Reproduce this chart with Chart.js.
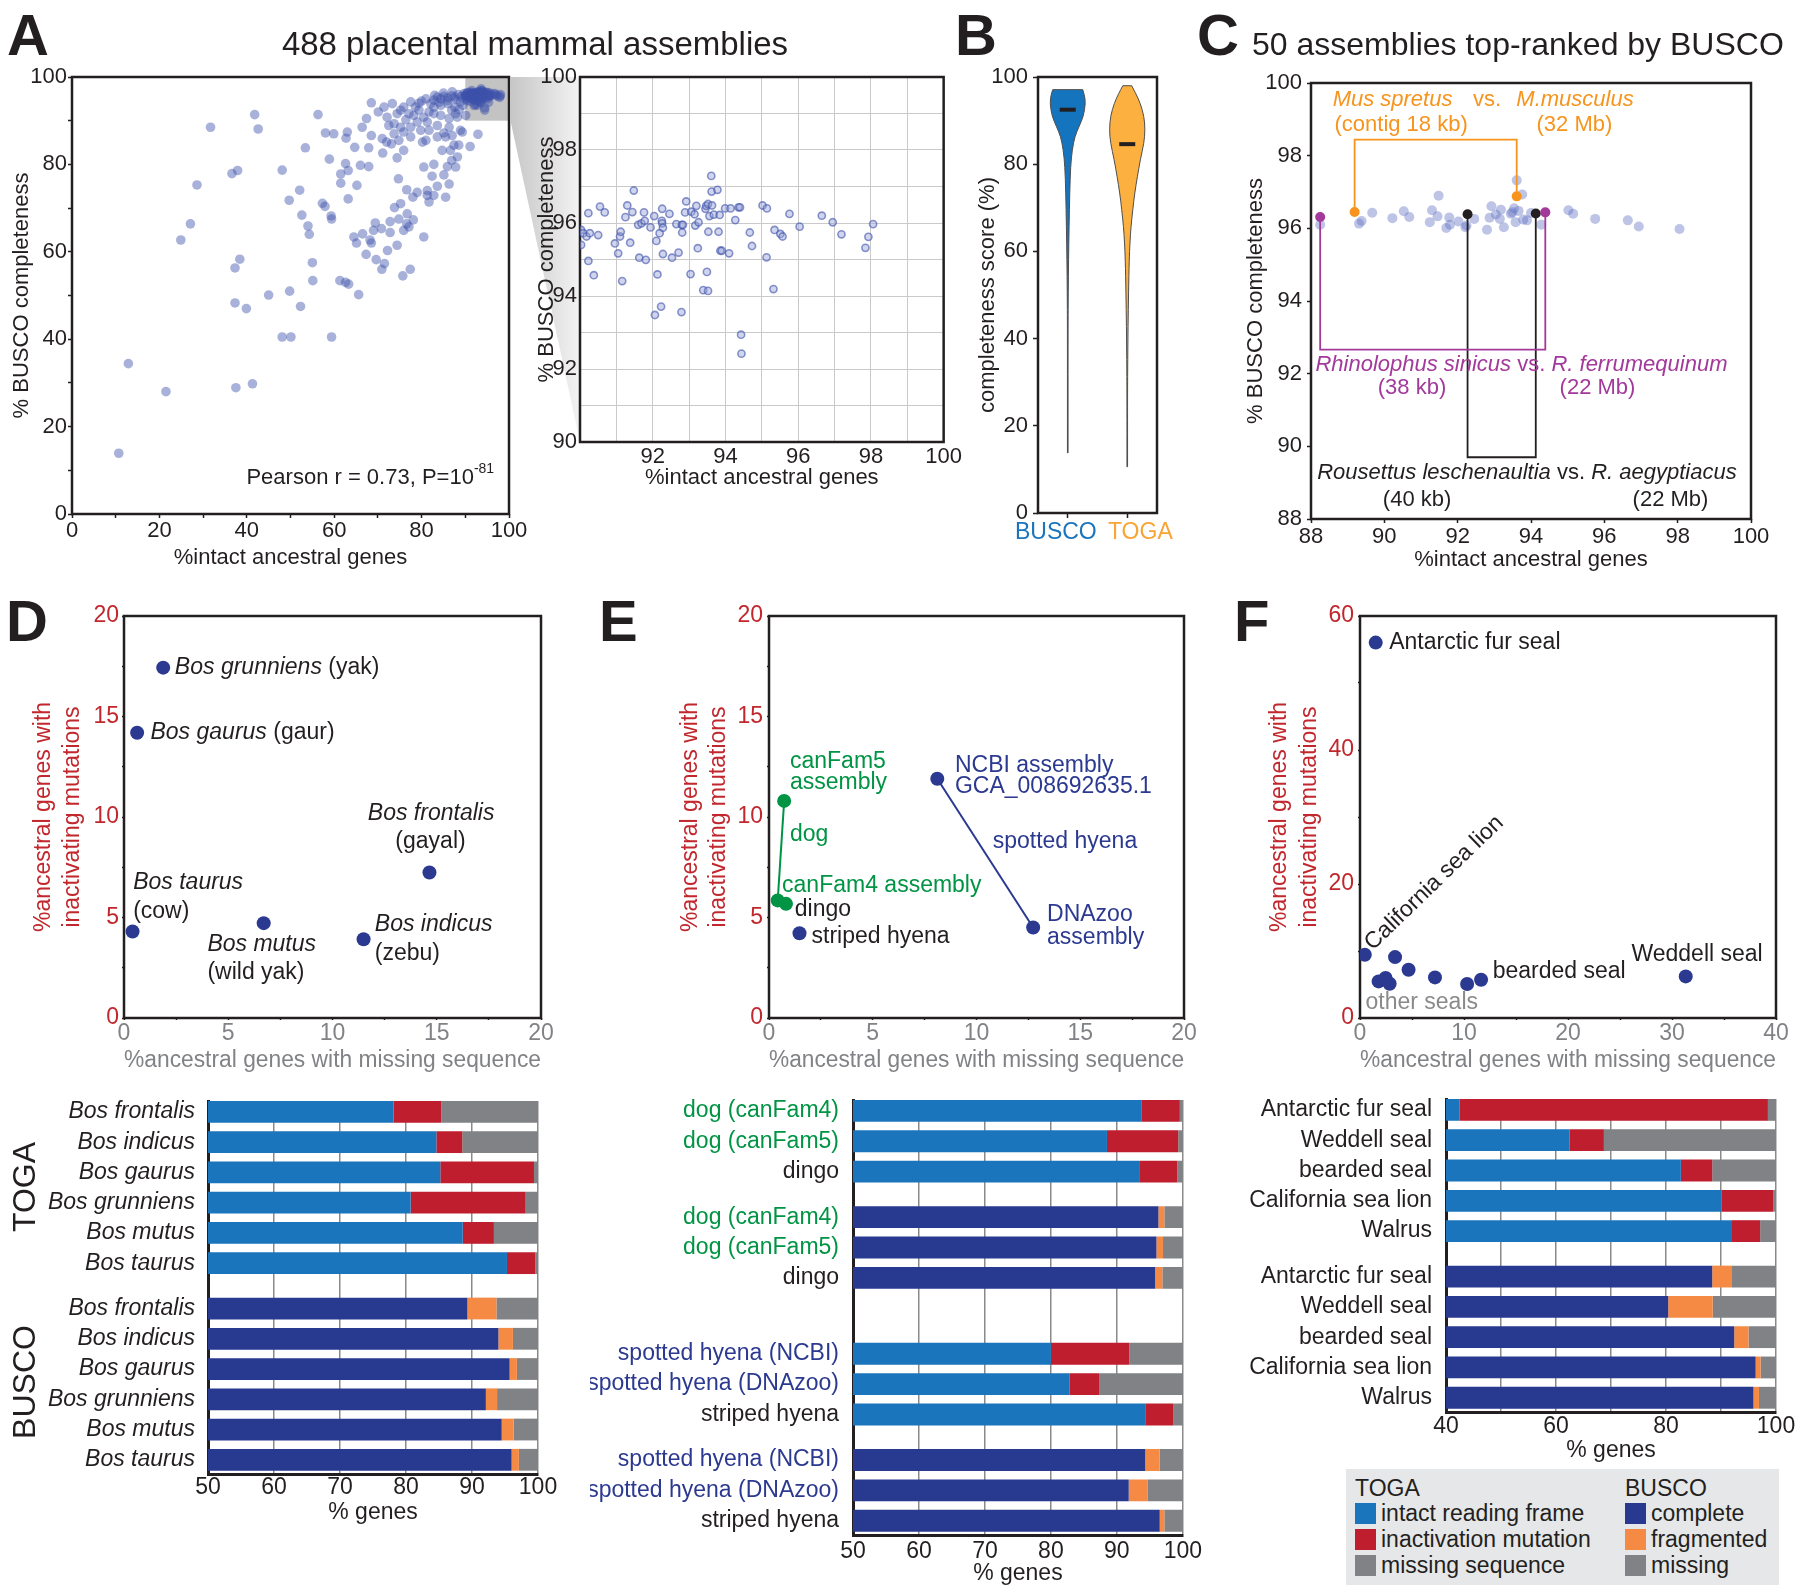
<!DOCTYPE html>
<html>
<head>
<meta charset="utf-8">
<title>TOGA vs BUSCO completeness</title>
<script src="https://cdn.jsdelivr.net/npm/chart.js@4.4.1/dist/chart.umd.min.js"></script>
<style>
  html, body { margin: 0; padding: 0; background: #fff; }
  body { position: relative; width: 1800px; height: 1594px; overflow: hidden;
         font-family: 'Liberation Sans', Arial, Helvetica, sans-serif; color: #231f20; }
  canvas { position: absolute; }
  .t { position: absolute; white-space: nowrap; line-height: 1; }
  .sw { position: absolute; width: 21px; height: 21px; }
</style>
</head>
<body>
<script>
// ---------- data ----------

// A: assemblies outside the zoomed corner, [%intact ancestral genes, % BUSCO completeness]
const allAssemblies = [
  [10.7,13.9],[12.9,34.4],[21.5,28.0],[24.9,62.7],[27.1,66.4],[28.6,75.3],[31.7,88.5],[36.6,77.9],[37.9,78.6],
  [37.3,56.3],[38.4,58.3],[37.3,48.3],[39.9,47.0],[37.5,28.9],[41.3,29.8],[41.8,91.4],[42.6,88.1],[45.0,50.1],
  [48.1,78.7],[49.7,71.8],[48.1,40.5],[50.1,40.5],[49.8,51.0],[52.1,74.1],[52.6,68.4],[52.3,47.5],[53.4,83.8],
  [54.0,65.9],[54.3,64.0],[55.0,57.5],[55.1,53.4],[56.3,91.4],[58.0,87.2],[58.9,81.2],[57.3,71.1],[57.9,70.4],
  [59.3,68.2],[59.4,67.5],[59.4,40.5],[59.9,87.0],[61.5,77.8],[61.5,75.7],[61.3,53.4],[62.6,53.0],[62.6,80.2],
  [63.2,78.6],[63.3,52.6],[63.2,72.1],[62.7,86.0],[63.0,87.4],[64.7,83.9],[65.2,75.2],[65.6,50.2],[64.5,63.4],
  [65.1,62.0],[66.0,79.8],[66.5,64.1],[67.3,59.4],[67.9,83.8],[67.9,79.5],[68.2,62.7],[68.5,62.0],[68.5,94.1],
  [67.4,90.5],[66.4,88.5],[68.5,86.6],[69.4,66.6],[69.0,64.9],[69.6,58.2],[70.8,65.3],[70.9,56.0],[71.1,82.6],
  [71.5,57.3],[72.2,60.3],[72.8,66.9],[72.8,64.4],[71.0,85.9],[70.1,92.0],[71.4,93.1],[72.5,88.9],[72.0,85.1],
  [73.7,87.0],[73.3,93.9],[74.4,91.6],[73.8,70.1],[74.7,76.7],[74.4,61.5],[74.8,67.5],[75.2,71.0],[75.7,54.5],
  [74.4,81.5],[75.9,83.2],[75.2,88.5],[75.9,93.1],[76.6,74.2],[75.9,64.9],[76.7,68.7],[76.6,66.4],[77.1,65.7],
  [77.4,56.0],[77.5,86.3],[76.4,90.2],[78.2,91.2],[78.0,72.5],[78.1,67.3],[79.0,73.6],[77.5,94.3],[79.4,94.0],
  [80.2,85.1],[80.5,79.4],[80.5,63.4],[81.3,74.0],[81.7,71.4],[81.3,72.9],[82.4,77.3],[82.8,80.0],[82.8,72.9],
  [83.6,75.0],[83.6,88.9],[81.0,85.5],[84.7,83.2],[85.1,77.6],[85.5,72.5],[85.9,79.5],[86.3,75.5],[85.5,86.3],
  [86.6,83.2],[86.9,80.9],[87.4,84.4],[87.8,79.4],[88.2,81.7],[88.5,84.4],[88.9,87.8],[89.3,87.4],[88.2,90.8],
  [91.1,84.1],[92.9,86.9],[79.4,92.4],[80.5,90.8],[81.7,92.0],[82.1,93.9],[82.8,94.7],[83.6,95.4],[84.4,95.0],
  [85.1,95.6],[86.0,95.2],[86.9,95.7],[87.6,95.4],[88.4,96.0],[89.0,95.5],[89.7,96.2],[82.8,93.1],[84.4,93.5],
  [86.0,93.9],[86.9,92.4],[87.6,93.1],[88.9,94.3],[82.8,91.6],[81.3,89.7],[79.0,89.7],[77.5,88.5],[84.4,91.2],
  [86.3,90.5],[87.8,91.6],[90.1,91.2],[79.8,87.8],[81.7,87.8],[83.6,86.3],[86.3,88.5],[77.1,91.6],[78.6,93.1],
  [75.2,92.4],[73.7,89.3],[72.1,90.8],[75.9,87.4],[74.8,85.5],[73.1,84.7],[80.0,94.5],[81.0,95.0],[83.0,95.8],
  [85.0,96.3],[87.0,96.6],[88.0,94.8],[89.5,93.5],[84.0,94.2],[86.0,94.6],[88.6,92.6],[85.1,87.2],[87.0,86.6]
];
// A inset: assemblies inside the 90-100 corner
const cornerAssemblies = [
  [90.03,95.81],[90.09,95.72],[90.18,95.63],[90.27,95.72],[90.03,95.40],[90.23,96.27],[90.23,94.96],[90.38,94.57],
  [90.50,95.67],[90.55,96.45],[90.68,96.29],[90.96,95.44],[91.05,95.17],[91.10,95.63],[91.12,95.76],[91.16,94.41],
  [91.25,96.16],[91.30,96.48],[91.38,95.46],[91.44,96.30],[91.48,96.89],[91.60,95.95],[91.63,95.05],[91.69,95.99],
  [91.76,96.29],[91.78,96.06],[91.81,94.99],[91.94,95.88],[92.04,96.19],[92.06,93.48],[92.10,95.51],[92.13,94.59],
  [92.19,95.72],[92.23,93.71],[92.25,96.06],[92.26,95.99],[92.26,96.39],[92.28,95.87],[92.28,95.15],[92.46,96.25],
  [92.53,95.05],[92.65,95.97],[92.71,95.19],[92.79,93.56],[92.80,95.95],[92.81,95.74],[92.83,95.95],[92.89,96.29],
  [92.92,96.59],[93.04,94.60],[93.06,96.31],[93.15,96.24],[93.17,95.93],[93.20,96.47],[93.24,95.31],[93.26,96.02],
  [93.39,94.16],[93.45,96.39],[93.47,96.47],[93.49,94.66],[93.52,94.14],[93.52,96.52],[93.53,95.76],[93.56,96.19],
  [93.61,97.29],[93.62,96.86],[93.63,96.48],[93.68,96.23],[93.78,96.91],[93.81,95.76],[93.84,96.22],[93.86,95.24],
  [93.90,95.24],[93.99,96.40],[94.10,95.17],[94.14,96.40],[94.27,96.08],[94.36,96.43],[94.40,96.43],[94.43,92.94],
  [94.44,92.42],[94.67,95.74],[94.73,95.37],[95.02,96.48],[95.13,95.06],[95.14,96.40],[95.32,94.19],[95.35,95.81],
  [95.51,95.70],[95.57,95.63],[95.76,96.25],[96.04,95.90],[96.65,96.20],[96.95,96.02],[97.19,95.69],[97.85,95.32],
  [97.93,95.62],[98.06,95.97]
];
const zoomRange = [90, 100];

// B: violin outlines as [completeness score, relative density], plus medians
const violinLabels = ['BUSCO', 'TOGA'];
const buscoViolin = [[97.1,0.84],[96,0.93],[94,1.0],[91,0.88],[88.7,0.64],[86.4,0.4],[83.3,0.25],[79.5,0.16],
  [73.4,0.11],[65.7,0.075],[58.1,0.045],[50.5,0.028],[42.8,0.017],[13.8,0.017]];
const togaViolin = [[98,0.25],[96.3,0.47],[94,0.73],[91,0.94],[87.9,1.0],[84.9,0.94],[81,0.73],[77.2,0.57],
  [73.4,0.42],[69.6,0.31],[65.7,0.21],[61.9,0.15],[58.1,0.11],[50.5,0.073],[42.8,0.045],[35.2,0.028],
  [27.5,0.017],[10.6,0.017]];
const violinMedians = [92.5, 84.6];

// C: 50 assemblies top-ranked by BUSCO
const top50 = [
  [88.25,96.10],[89.31,96.13],[89.38,96.20],[89.67,96.43],[90.22,96.28],[90.53,96.47],[90.68,96.31],[91.24,96.17],
  [91.30,96.50],[91.45,96.33],[91.48,96.90],[91.69,96.01],[91.77,96.30],[91.79,96.10],[92.02,96.19],[92.21,96.03],
  [92.24,96.08],[92.45,96.26],[92.80,95.96],[92.87,96.29],[92.92,96.61],[93.04,96.38],[93.15,96.26],[93.18,96.51],
  [93.26,96.03],[93.45,96.40],[93.49,96.44],[93.54,96.55],[93.58,96.17],[93.61,97.32],[93.66,96.48],[93.76,96.93],
  [93.79,96.24],[93.89,96.22],[94.00,96.42],[94.28,96.10],[95.02,96.50],[95.15,96.40],[95.75,96.26],[96.64,96.22],
  [96.94,96.05],[98.05,95.98]
];
const musPair = [[89.19,96.45],[93.61,96.88]];     // Mus spretus, M. musculus
const rhinoPair = [[88.25,96.31],[94.39,96.44]];   // Rhinolophus sinicus, R. ferrumequinum
const rousPair = [[92.27,96.39],[94.13,96.41]];    // Rousettus leschenaultia, R. aegyptiacus
const bracketLevels = [98.44, 92.66, 89.70];

// D: Bos assemblies
const bosNames = ['Bos frontalis', 'Bos indicus', 'Bos gaurus', 'Bos grunniens', 'Bos mutus', 'Bos taurus'];
const bosMissing = [14.65, 11.49, 0.63, 1.88, 6.70, 0.41];
const bosInactivated = [7.24, 3.92, 14.19, 17.43, 4.72, 4.30];
const bosIntact = [78.1, 84.6, 85.2, 80.7, 88.6, 95.3];
const bosBuscoComplete = [89.3, 94.0, 95.7, 92.1, 94.5, 96.0];
const bosBuscoFragmented = [4.4, 2.2, 1.1, 1.7, 1.8, 1.1];
const bosBuscoMissing = [6.3, 3.8, 3.2, 6.2, 3.7, 2.9];

// E: dog / hyena assemblies
const dogNames = ['dog (canFam4)', 'dog (canFam5)', 'dingo'];
const dogMissing = [0.42, 0.73, 0.82];
const dogInactivated = [5.85, 10.8, 5.68];
const dogIntact = [93.7, 88.5, 93.5];
const dogBuscoComplete = [96.3, 96.0, 95.8];
const dogBuscoFragmented = [0.9, 1.0, 1.1];
const dogBuscoMissing = [2.8, 3.0, 3.1];
const hyenaNames = ['spotted hyena (NCBI)', 'spotted hyena (DNAzoo)', 'striped hyena'];
const hyenaMissing = [8.11, 12.73, 1.47];
const hyenaInactivated = [11.9, 4.5, 4.22];
const hyenaIntact = [80.0, 82.8, 94.3];
const hyenaBuscoComplete = [94.3, 91.8, 96.5];
const hyenaBuscoFragmented = [2.2, 2.9, 0.7];
const hyenaBuscoMissing = [3.5, 5.3, 2.8];

// F: pinnipeds
const sealNames = ['Antarctic fur seal', 'Weddell seal', 'bearded seal', 'California sea lion', 'Walrus'];
const sealMissing = [1.51, 31.32, 11.64, 0.46, 2.85];
const sealInactivated = [56.03, 6.21, 5.71, 9.44, 5.12];
const sealIntact = [42.5, 62.5, 82.7, 90.1, 92.0];
const sealBuscoComplete = [88.4, 80.4, 92.4, 96.3, 95.9];
const sealBuscoFragmented = [3.6, 8.1, 2.6, 0.9, 1.0];
const sealBuscoMissing = [8.0, 11.5, 5.0, 2.8, 3.1];
const otherSeals = [[3.37,9.09],[4.67,7.20],[1.79,5.46],[2.46,5.96],[7.21,6.06],[10.30,5.07]];

// ---------- styling ----------
const ink = '#231f20';
const togaBlue = '#1b75bc', togaRed = '#be1e2d', missGray = '#808285';
const buscoNavy = '#283a8f', buscoOrange = '#f58a45';
const dotNavy = '#2b3990', dogGreen = '#009444';
const axisRed = '#c1272d', axisGray = '#808285';
const cOrange = '#f7941d', cPurple = '#a2399b';
const FONT = "'Liberation Sans', Arial, Helvetica, sans-serif";

Chart.defaults.font.family = FONT;
Chart.defaults.font.size = 22;
Chart.defaults.color = ink;
Chart.defaults.animation = false;
Chart.defaults.responsive = false;
Chart.defaults.maintainAspectRatio = false;
Chart.defaults.plugins.legend.display = false;
Chart.defaults.plugins.tooltip.enabled = false;
Chart.defaults.layout.autoPadding = false;

const pts = arr => arr.map(([x, y]) => ({ x, y }));

// text runs: [text, style('i' italic, 's' superscript), color]
function drawRuns(ctx, runs, x, y, align, size, color) {
  const fontOf = st => (st && st.includes('i') ? 'italic ' : '') +
    (st && st.includes('s') ? Math.round(size * 0.62) : size) + 'px ' + FONT;
  let total = 0;
  runs.forEach(r => { ctx.font = fontOf(r[1]); total += ctx.measureText(r[0]).width; });
  let cx = align === 'center' ? x - total / 2 : align === 'right' ? x - total : x;
  ctx.textBaseline = 'middle';
  ctx.textAlign = 'left';
  runs.forEach(r => {
    ctx.font = fontOf(r[1]);
    ctx.fillStyle = r[2] || color;
    ctx.fillText(r[0], cx, r[1] && r[1].includes('s') ? y - size * 0.38 : y);
    cx += ctx.measureText(r[0]).width;
  });
}

const zoomCornerPlugin = {
  id: 'zoomCorner',
  beforeDatasetsDraw(chart, args, o) {
    if (!o.range) return;
    const { ctx, scales: { x, y } } = chart;
    const x0 = x.getPixelForValue(o.range[0]), x1 = x.getPixelForValue(o.range[1]);
    const y0 = y.getPixelForValue(o.range[1]), y1 = y.getPixelForValue(o.range[0]);
    ctx.save();
    ctx.fillStyle = '#c3c3c3';
    ctx.fillRect(x0, y0, x1 - x0, y1 - y0);
    ctx.restore();
  }
};

const framePlugin = {
  id: 'frame',
  beforeDatasetsDraw(chart, args, o) {
    if (!o.width) return;
    const { left, top, right, bottom } = chart.chartArea;
    const ctx = chart.ctx;
    ctx.save();
    ctx.strokeStyle = ink;
    ctx.lineWidth = o.width;
    ctx.strokeRect(left, top, right - left, bottom - top);
    ctx.restore();
  }
};

let wedgeSource = null;
const wedgePlugin = {
  id: 'wedge',
  beforeDraw(chart, args, o) {
    if (!o.range || !wedgeSource) return;
    const src = wedgeSource;
    const dx = parseFloat(src.canvas.style.left) - parseFloat(chart.canvas.style.left);
    const dy = parseFloat(src.canvas.style.top) - parseFloat(chart.canvas.style.top);
    const x0 = src.chartArea.right + dx + 1.5;
    const yTop = src.scales.y.getPixelForValue(o.range[1]) + dy;
    const yBot = src.scales.y.getPixelForValue(o.range[0]) + dy;
    const { left, top, bottom } = chart.chartArea;
    const ctx = chart.ctx;
    const g = ctx.createLinearGradient(x0, 0, left, 0);
    g.addColorStop(0, '#c6c6c6');
    g.addColorStop(1, '#f3f3f3');
    ctx.save();
    ctx.fillStyle = g;
    ctx.beginPath();
    ctx.moveTo(x0, yTop);
    ctx.lineTo(left, top);
    ctx.lineTo(left, bottom);
    ctx.lineTo(x0, yBot);
    ctx.closePath();
    ctx.fill();
    ctx.restore();
  }
};

function smoothThrough(ctx, p) {
  for (let i = 1; i < p.length - 1; i++) {
    const mx = (p[i][0] + p[i + 1][0]) / 2, my = (p[i][1] + p[i + 1][1]) / 2;
    ctx.quadraticCurveTo(p[i][0], p[i][1], mx, my);
  }
  ctx.lineTo(p[p.length - 1][0], p[p.length - 1][1]);
}

const violinPlugin = {
  id: 'violins',
  beforeDatasetsDraw(chart, args, o) {
    if (!o.shapes) return;
    const { ctx, scales: { x, y } } = chart;
    const half = (x.getPixelForValue(1) - x.getPixelForValue(0)) * o.widthFrac;
    o.shapes.forEach((s, i) => {
      const cx = x.getPixelForValue(i);
      const right = s.profile.map(([v, d]) => [cx + d * half, y.getPixelForValue(v)]);
      const left = s.profile.map(([v, d]) => [cx - d * half, y.getPixelForValue(v)]).reverse();
      ctx.save();
      ctx.beginPath();
      ctx.moveTo(left[left.length - 1][0], left[left.length - 1][1]);
      ctx.lineTo(right[0][0], right[0][1]);
      smoothThrough(ctx, right);
      ctx.lineTo(left[0][0], left[0][1]);
      smoothThrough(ctx, left);
      ctx.closePath();
      ctx.fillStyle = s.color;
      ctx.fill();
      ctx.strokeStyle = '#4d4d4f';
      ctx.lineWidth = 1;
      ctx.stroke();
      ctx.restore();
    });
  }
};

const notesPlugin = {
  id: 'notes',
  afterDatasetsDraw(chart, args, o) {
    if (!o.items) return;
    const { ctx, scales } = chart;
    o.items.forEach(n => {
      ctx.save();
      ctx.translate(scales.x.getPixelForValue(n.x), scales.y.getPixelForValue(n.y));
      if (n.rot) ctx.rotate(n.rot * Math.PI / 180);
      drawRuns(ctx, n.runs, 0, 0, n.align || 'left', o.size || 22, n.color || ink);
      ctx.restore();
    });
  }
};

Chart.register(zoomCornerPlugin, framePlugin, wedgePlugin, violinPlugin, notesPlugin);

// ---------- layout helpers ----------
function mount(area, yW, xH, padT, padR) {
  const c = document.createElement('canvas');
  const left = area[0] - yW, top = area[1] - padT;
  c.width = area[2] + padR - left;
  c.height = area[3] + xH - top;
  c.style.left = left + 'px';
  c.style.top = top + 'px';
  document.body.appendChild(c);
  return c;
}

function axis(o) {
  const every = o.every || o.step;
  const onStep = v => Math.abs(v / every - Math.round(v / every)) < 1e-6;
  return {
    type: 'linear', min: o.min, max: o.max,
    afterFit: s => { if (s.isHorizontal()) s.height = o.fit; else s.width = o.fit; },
    ticks: {
      stepSize: o.step, autoSkip: false, maxRotation: 0, padding: o.pad || 0,
      color: o.color || ink, font: { size: o.size },
      callback: v => (onStep(v) && !(o.skip && o.skip.includes(v))) ? String(v) : ''
    },
    grid: {
      drawOnChartArea: !!o.grid, color: o.grid || ink, tickColor: ink, lineWidth: o.gridWidth || 1,
      drawTicks: !!o.tl, tickLength: o.tl || 0, tickWidth: 1.5
    },
    border: { display: false },
    title: {
      display: !!o.title, text: o.title, color: o.color || ink,
      font: { size: o.size, lineHeight: o.lh || 1.2 }, padding: { top: o.tpad || 0, bottom: 0 }
    }
  };
}

function scatterPanel(area, m, xo, yo, datasets, plugins) {
  const canvas = mount(area, m.yW, m.xH, m.padT, m.padR);
  xo.fit = m.xH;
  yo.fit = m.yW;
  return new Chart(canvas, {
    type: 'scatter',
    data: { datasets },
    options: {
      layout: { padding: { top: m.padT, right: m.padR, left: 0, bottom: 0 } },
      scales: { x: axis(xo), y: axis(yo) },
      plugins: Object.assign({ frame: { width: 2.5 } }, plugins || {})
    }
  });
}

function barPanel(area, m, layoutRows, xo, labelColor) {
  const canvas = mount(area, m.yW, m.xH, m.padT, m.padR);
  let p = 0;
  const rows = [];
  layoutRows.forEach(r => {
    if (r === null) { p += 0.5; } else { rows.push(Object.assign({ pos: p }, r)); p += 1; }
  });
  const segColors = { T: [togaBlue, togaRed, missGray], B: [buscoNavy, buscoOrange, missGray] };
  const datasets = [0, 1, 2].map(k => ({
    data: rows.map(r => ({ x: r.vals[k], y: r.pos })),
    backgroundColor: rows.map(r => segColors[r.kind][k]),
    borderWidth: 0, clip: 0, categoryPercentage: 0.9, barPercentage: 0.8
  }));
  xo.fit = m.xH;
  xo.size = 23;
  xo.title = '% genes';
  const x = axis(xo);
  x.stacked = true;
  x.grid = { color: '#8a8a8a', lineWidth: 1.5, drawTicks: false };
  x.border = { display: true, color: ink, width: 3 };
  return new Chart(canvas, {
    type: 'bar',
    data: { datasets },
    options: {
      indexAxis: 'y',
      layout: { padding: { top: m.padT, right: m.padR, left: 0, bottom: 0 } },
      scales: {
        x,
        y: {
          type: 'linear', reverse: true, stacked: true, bounds: 'data', offset: false,
          min: -0.36, max: rows[rows.length - 1].pos + 0.47,
          afterBuildTicks: s => { s.ticks = rows.map(r => ({ value: r.pos })); },
          afterFit: s => { s.width = m.yW; },
          ticks: {
            autoSkip: false, padding: m.yPad,
            font: { size: 23, style: m.italic ? 'italic' : 'normal' },
            color: c => labelColor(rows[c.index]),
            callback: (v, i) => rows[i] ? rows[i].name : ''
          },
          grid: { display: false, offset: false },
          border: { display: true, color: ink, width: 3 }
        }
      }
    }
  });
}

// ---------- A ----------
const chartA = scatterPanel([72, 77, 509, 514], { yW: 72, xH: 57, padT: 24, padR: 20 },
  { min: 0, max: 100, step: 10, every: 20, tl: 4, pad: 0, size: 22, title: '%intact ancestral genes' },
  { min: 0, max: 100, step: 10, every: 20, tl: 4, pad: 1, size: 22, title: '% BUSCO completeness', tpad: 8.8 },
  [{ data: pts(allAssemblies.concat(cornerAssemblies)), pointRadius: 4.8,
     backgroundColor: 'rgba(62,82,170,0.45)', borderWidth: 0 }],
  {
    zoomCorner: { range: zoomRange },
    notes: { size: 22, items: [{ x: 96.6, y: 8.3, align: 'right', runs: [['Pearson r = 0.73, P=10'], ['-81', 's']] }] }
  });
wedgeSource = chartA;

// ---------- A inset ----------
scatterPanel([580, 77, 944, 442], { yW: 71, xH: 49, padT: 24, padR: 20 },
  { min: 90, max: 100, step: 1, every: 2, skip: [90], pad: 2, size: 22, grid: '#cacaca', title: '%intact ancestral genes' },
  { min: 90, max: 100, step: 1, every: 2, pad: 3, size: 22, grid: '#cacaca', title: '% BUSCO completeness', tpad: 24.8 },
  [{ data: pts(cornerAssemblies), pointRadius: 3.6, backgroundColor: 'rgba(150,162,215,0.45)',
     borderColor: 'rgba(62,82,170,0.6)', borderWidth: 1.6 }],
  { wedge: { range: zoomRange } });

// ---------- B ----------
(function () {
  const canvas = mount([1038, 77, 1157, 513], 78, 40, 24, 30);
  const yAxis = axis({ min: 0, max: 100, step: 20, tl: 5, pad: 5, size: 22, fit: 78,
                       title: 'completeness score (%)', tpad: 14.8 });
  const labelColors = [togaBlue, '#f7a533'];
  new Chart(canvas, {
    type: 'scatter',
    data: {
      datasets: [{
        data: violinLabels.map((g, i) => ({ x: g, y: violinMedians[i] })),
        pointStyle: 'line', pointRadius: 8, borderColor: ink, borderWidth: 4
      }]
    },
    options: {
      layout: { padding: { top: 24, right: 30, left: 0, bottom: 0 } },
      scales: {
        x: {
          type: 'category', labels: violinLabels, offset: true,
          afterFit: s => { s.height = 40; },
          grid: { offset: false, drawOnChartArea: false, tickLength: 5, tickColor: ink, tickWidth: 1.5 },
          border: { display: false },
          ticks: { autoSkip: false, maxRotation: 0, minRotation: 0, callback: () => '' }
        },
        y: yAxis
      },
      plugins: {
        frame: { width: 2.5 },
        violins: { widthFrac: 0.3, shapes: [{ profile: buscoViolin, color: '#1474bd' }, { profile: togaViolin, color: '#fbb040' }] },
        // group names sit a little outside their violins, as in the original layout
        notes: { size: 23, items: violinLabels.map((g, i) => ({
          x: i === 0 ? -0.2 : 1.22, y: -4.6, align: 'center', color: labelColors[i], runs: [[g]] })) }
      }
    }
  });
})();

// ---------- C ----------
(function () {
  const bracket = (pair, level) => [pair[0], [pair[0][0], level], [pair[1][0], level], pair[1]];
  const marks = [[musPair, cOrange], [rhinoPair, cPurple], [rousPair, ink]];
  scatterPanel([1311, 83, 1751, 519], { yW: 91, xH: 54, padT: 24, padR: 20 },
    { min: 88, max: 100, step: 2, tl: 4, pad: 1, size: 22, title: '%intact ancestral genes' },
    { min: 88, max: 100, step: 2, tl: 4, pad: 5, size: 22, title: '% BUSCO completeness', tpad: 22.8 },
    [
      ...marks.map(([pair, col]) => ({ data: pts(pair), backgroundColor: col, pointRadius: 5, borderWidth: 0 })),
      ...marks.map(([pair, col], i) => ({ data: pts(bracket(pair, bracketLevels[i])), showLine: true,
                                         borderColor: col, borderWidth: 1.8, pointRadius: 0 })),
      { data: pts(top50), backgroundColor: 'rgba(98,115,195,0.42)', pointRadius: 5, borderWidth: 0 }
    ],
    {
      notes: {
        size: 22, items: [
          { x: 88.59, y: 99.53, color: cOrange, runs: [['Mus spretus', 'i']] },
          { x: 92.42, y: 99.53, color: cOrange, runs: [['vs.']] },
          { x: 93.6, y: 99.53, color: cOrange, runs: [['M.musculus', 'i']] },
          { x: 88.64, y: 98.84, color: cOrange, runs: [['(contig 18 kb)']] },
          { x: 94.15, y: 98.84, color: cOrange, runs: [['(32 Mb)']] },
          { x: 88.12, y: 92.24, color: cPurple, runs: [['Rhinolophus sinicus', 'i'], [' vs. '], ['R. ferrumequinum', 'i']] },
          { x: 89.82, y: 91.6, color: cPurple, runs: [['(38 kb)']] },
          { x: 94.78, y: 91.6, color: cPurple, runs: [['(22 Mb)']] },
          { x: 88.17, y: 89.26, runs: [['Rousettus leschenaultia', 'i'], [' vs. '], ['R. aegyptiacus', 'i']] },
          { x: 89.96, y: 88.52, runs: [['(40 kb)']] },
          { x: 96.77, y: 88.52, runs: [['(22 Mb)']] }
        ]
      }
    });
})();

// ---------- D / E / F scatter ----------
const missTitle = '%ancestral genes with missing sequence';
const inactTitle = ['%ancestral genes with', 'inactivating mutations'];

scatterPanel([124, 616, 541, 1018], { yW: 124, xH: 56, padT: 24, padR: 20 },
  { min: 0, max: 20, step: 2.5, every: 5, tl: 2, pad: 0, size: 23, color: axisGray, title: missTitle },
  { min: 0, max: 20, step: 2.5, every: 5, tl: 2, pad: 3, size: 23, color: axisRed, title: inactTitle, lh: 1.26, tpad: 29.5 },
  [{ data: bosMissing.map((m, i) => ({ x: m, y: bosInactivated[i] })), backgroundColor: dotNavy, pointRadius: 7, borderWidth: 0 }],
  {
    notes: {
      size: 23, items: [
        { x: 2.44, y: 17.43, runs: [['Bos grunniens', 'i'], [' (yak)']] },
        { x: 1.27, y: 14.19, runs: [['Bos gaurus', 'i'], [' (gaur)']] },
        { x: 14.73, y: 10.19, align: 'center', runs: [['Bos frontalis', 'i']] },
        { x: 14.7, y: 8.76, align: 'center', runs: [['(gayal)']] },
        { x: 0.44, y: 6.74, runs: [['Bos taurus', 'i']] },
        { x: 0.44, y: 5.30, runs: [['(cow)']] },
        { x: 4.0, y: 3.64, runs: [['Bos mutus', 'i']] },
        { x: 4.0, y: 2.24, runs: [['(wild yak)']] },
        { x: 12.03, y: 4.64, runs: [['Bos indicus', 'i']] },
        { x: 12.03, y: 3.20, runs: [['(zebu)']] }
      ]
    }
  });

scatterPanel([769, 616, 1184, 1018], { yW: 129, xH: 56, padT: 24, padR: 20 },
  { min: 0, max: 20, step: 2.5, every: 5, tl: 2, pad: 0, size: 23, color: axisGray, title: missTitle },
  { min: 0, max: 20, step: 2.5, every: 5, tl: 2, pad: 4, size: 23, color: axisRed, title: inactTitle, lh: 1.22, tpad: 36.5 },
  [
    { data: dogMissing.map((m, i) => ({ x: m, y: dogInactivated[i] })), backgroundColor: dogGreen, pointRadius: 7, borderWidth: 0 },
    { data: hyenaMissing.map((m, i) => ({ x: m, y: hyenaInactivated[i] })), backgroundColor: dotNavy, pointRadius: 7, borderWidth: 0 },
    { data: [0, 1].map(i => ({ x: dogMissing[i], y: dogInactivated[i] })), showLine: true, borderColor: dogGreen, borderWidth: 2, pointRadius: 0 },
    { data: [0, 1].map(i => ({ x: hyenaMissing[i], y: hyenaInactivated[i] })), showLine: true, borderColor: dotNavy, borderWidth: 2, pointRadius: 0 }
  ],
  {
    notes: {
      size: 23, items: [
        { x: 1.01, y: 12.76, color: dogGreen, runs: [['canFam5']] },
        { x: 1.01, y: 11.72, color: dogGreen, runs: [['assembly']] },
        { x: 1.01, y: 9.11, color: dogGreen, runs: [['dog']] },
        { x: 0.63, y: 6.57, color: dogGreen, runs: [['canFam4 assembly']] },
        { x: 1.24, y: 5.41, runs: [['dingo']] },
        { x: 2.05, y: 4.06, runs: [['striped hyena']] },
        { x: 8.96, y: 12.55, color: dotNavy, runs: [['NCBI assembly']] },
        { x: 8.96, y: 11.51, color: dotNavy, runs: [['GCA_008692635.1']] },
        { x: 10.78, y: 8.77, color: dotNavy, runs: [['spotted hyena']] },
        { x: 13.4, y: 5.13, color: dotNavy, runs: [['DNAzoo']] },
        { x: 13.4, y: 4.02, color: dotNavy, runs: [['assembly']] }
      ]
    }
  });

scatterPanel([1360, 616, 1776, 1018], { yW: 120, xH: 56, padT: 24, padR: 20 },
  { min: 0, max: 40, step: 5, every: 10, tl: 2, pad: 0, size: 23, color: axisGray, title: missTitle },
  { min: 0, max: 60, step: 10, every: 20, tl: 2, pad: 4, size: 23, color: axisRed, title: inactTitle, lh: 1.3, tpad: 24.5 },
  [
    { data: sealMissing.map((m, i) => ({ x: m, y: sealInactivated[i] })), backgroundColor: dotNavy, pointRadius: 7, borderWidth: 0 },
    { data: pts(otherSeals), backgroundColor: dotNavy, pointRadius: 7, borderWidth: 0 }
  ],
  {
    notes: {
      size: 23, items: [
        { x: 2.81, y: 56.03, runs: [['Antarctic fur seal']] },
        { x: 0.81, y: 10.68, rot: -44, runs: [['California sea lion']] },
        { x: 12.76, y: 6.95, runs: [['bearded seal']] },
        { x: 26.1, y: 9.44, runs: [['Weddell seal']] },
        { x: 0.53, y: 2.24, color: '#8a8a8a', runs: [['other seals']] }
      ]
    }
  });

// ---------- D / E / F bars ----------
const rowsOf = (names, kind, a, b, c) => names.map((n, i) => ({ name: n, kind, vals: [a[i], b[i], c[i]] }));

barPanel([208, 1101, 538, 1474], { yW: 168, xH: 52, padT: 26, padR: 22, yPad: 5, italic: true },
  [...rowsOf(bosNames, 'T', bosIntact, bosInactivated, bosMissing), null,
   ...rowsOf(bosNames, 'B', bosBuscoComplete, bosBuscoFragmented, bosBuscoMissing)],
  { min: 50, max: 100, step: 10, pad: 0 }, () => ink);

barPanel([853, 1100, 1183, 1535], { yW: 263, xH: 52, padT: 26, padR: 22, yPad: 6 },
  [...rowsOf(dogNames, 'T', dogIntact, dogInactivated, dogMissing), null,
   ...rowsOf(dogNames, 'B', dogBuscoComplete, dogBuscoFragmented, dogBuscoMissing), null, null, null,
   ...rowsOf(hyenaNames, 'T', hyenaIntact, hyenaInactivated, hyenaMissing), null,
   ...rowsOf(hyenaNames, 'B', hyenaBuscoComplete, hyenaBuscoFragmented, hyenaBuscoMissing)],
  { min: 50, max: 100, step: 10, pad: 3 },
  r => r && r.name.startsWith('dog') ? dogGreen : r && r.name.startsWith('spotted') ? dotNavy : ink);

barPanel([1446, 1099, 1776, 1412], { yW: 206, xH: 52, padT: 26, padR: 22, yPad: 6 },
  [...rowsOf(sealNames, 'T', sealIntact, sealInactivated, sealMissing), null,
   ...rowsOf(sealNames, 'B', sealBuscoComplete, sealBuscoFragmented, sealBuscoMissing)],
  { min: 40, max: 100, step: 10, every: 20, pad: 1 }, () => ink);

// ---------- page text ----------
function put(text, x, baseline, size, opt) {
  opt = opt || {};
  const d = document.createElement('div');
  d.className = 't';
  d.textContent = text;
  d.style.fontSize = size + 'px';
  d.style.left = x + 'px';
  d.style.top = (baseline - 0.8465 * size) + 'px';
  if (opt.bold) d.style.fontWeight = 'bold';
  if (opt.color) d.style.color = opt.color;
  if (opt.center) d.style.transform = 'translateX(-50%)';
  document.body.appendChild(d);
  return d;
}
function putRotated(text, cx, cy, size) {
  const d = document.createElement('div');
  d.className = 't';
  d.textContent = text;
  d.style.fontSize = size + 'px';
  d.style.left = cx + 'px';
  d.style.top = cy + 'px';
  d.style.transform = 'translate(-50%,-50%) rotate(-90deg)';
  document.body.appendChild(d);
}

put('A', 7, 55, 58, { bold: true });
put('488 placental mammal assemblies', 535, 55, 33, { center: true });
put('B', 955, 55, 58, { bold: true });
put('C', 1197, 55, 58, { bold: true });
put('50 assemblies top-ranked by BUSCO', 1252, 55, 32);
put('D', 6, 641, 58, { bold: true });
put('E', 599, 641, 58, { bold: true });
put('F', 1234, 641, 58, { bold: true });
putRotated('TOGA', 24, 1187, 32);
putRotated('BUSCO', 24, 1382, 32);

// legend
(function () {
  const box = document.createElement('div');
  box.style.cssText = 'position:absolute;left:1346px;top:1469px;width:433px;height:116px;background:#e6e7e8';
  document.body.appendChild(box);
  const groups = [
    { head: 'TOGA', x: 1355, items: [[togaBlue, 'intact reading frame'], [togaRed, 'inactivation mutation'], [missGray, 'missing sequence']] },
    { head: 'BUSCO', x: 1625, items: [[buscoNavy, 'complete'], [buscoOrange, 'fragmented'], [missGray, 'missing']] }
  ];
  const rowY = [1513, 1539, 1565];
  groups.forEach(g => {
    put(g.head, g.x, 1496, 23);
    g.items.forEach(([col, label], i) => {
      const sw = document.createElement('div');
      sw.className = 'sw';
      sw.style.left = g.x + 'px';
      sw.style.top = (rowY[i] - 10.5) + 'px';
      sw.style.background = col;
      document.body.appendChild(sw);
      put(label, g.x + 26, rowY[i] + 8.2, 23);
    });
  });
})();
</script>
</body>
</html>
